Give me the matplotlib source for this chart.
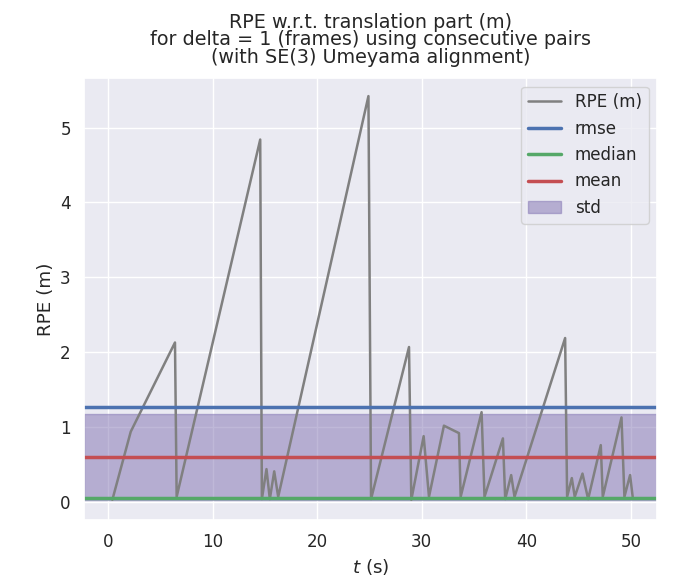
import numpy as np
import matplotlib
matplotlib.use('Agg')
import matplotlib.pyplot as plt
import seaborn as sns

# RPE samples (time in s, error in m)
t_sec = [0.41, 2.17, 6.40, 6.56, 14.55, 14.71, 15.15, 15.47, 15.89, 16.27,
         24.90, 25.15, 28.78, 29.00, 30.18, 30.69, 32.12, 33.56, 33.72, 35.72,
         36.00, 37.76, 37.98, 38.55, 38.87, 43.71, 43.90, 44.35, 44.63, 45.37,
         45.91, 47.12, 47.31, 49.10, 49.38, 49.92, 50.17]
rpe = [0.03, 0.94, 2.13, 0.07, 4.84, 0.04, 0.44, 0.04, 0.41, 0.07,
       5.42, 0.04, 2.07, 0.03, 0.88, 0.07, 1.02, 0.92, 0.07, 1.20,
       0.07, 0.85, 0.04, 0.36, 0.07, 2.19, 0.07, 0.32, 0.07, 0.38,
       0.04, 0.76, 0.07, 1.13, 0.07, 0.36, 0.07]

# statistics shown as horizontal lines
rmse = 1.27
median = 0.06
mean = 0.60
std = 0.57

sns.set_theme(style='darkgrid', context='notebook', font_scale=1.1)
plt.rcParams['font.family'] = ['DejaVu Sans']

fig = plt.figure(figsize=(6.83, 5.83), dpi=100)
ax = fig.add_axes([0.123, 0.108, 0.839, 0.758])

ax.plot(t_sec, rpe, color='gray', linewidth=1.8, label='RPE (m)')
ax.axhline(rmse, color='#4C72B0', linewidth=2.5, label='rmse')
ax.axhline(median, color='#55A868', linewidth=2.5, label='median')
ax.axhline(mean, color='#C44E52', linewidth=2.5, label='mean')
ax.axhspan(mean - std, mean + std, color='#8172B2', alpha=0.5, label='std')

ax.set_xlim(-2.3, 52.5)
ax.set_ylim(-0.24, 5.66)
ax.set_xticks([0, 10, 20, 30, 40, 50])
ax.set_yticks([0, 1, 2, 3, 4, 5])
ax.set_xlabel('$t$ (s)')
ax.set_ylabel('RPE (m)')
ax.set_title('RPE w.r.t. translation part (m)\n'
             'for delta = 1 (frames) using consecutive pairs\n'
             '(with SE(3) Umeyama alignment)', fontsize=13.8,
             linespacing=0.9, pad=11)
ax.legend(loc='upper right', frameon=True)

fig.savefig('out.png', dpi=100)
